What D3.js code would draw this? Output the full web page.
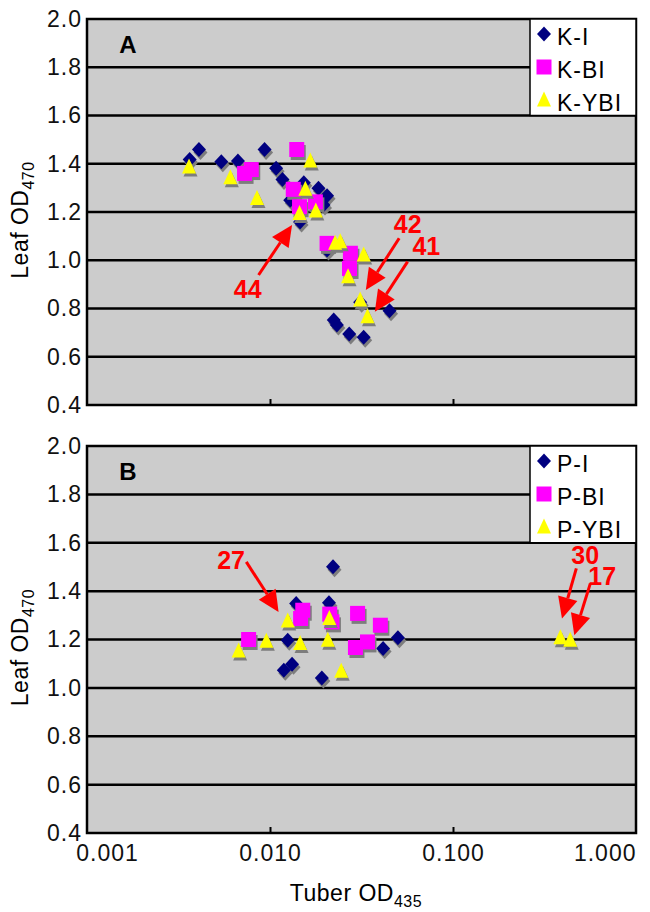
<!DOCTYPE html>
<html>
<head>
<meta charset="utf-8">
<script src="https://cdn.jsdelivr.net/npm/d3@7"></script>
<style>
body { margin: 0; background: #fff; }
text { font-family: "Liberation Sans", Arial, Helvetica, sans-serif; }
</style>
</head>
<body>
<div id="chart"></div>
<script>
// tuber OD435 vs leaf OD470, one [x, y] pair per plant
var kI = [[0.00364,1.418],[0.00409,1.459],[0.00542,1.408],[0.00668,1.411],[0.00934,1.459],
          [0.0108,1.381],[0.0117,1.335],[0.0129,1.249],[0.0153,1.321],[0.0184,1.298],[0.0205,1.267],
          [0.0196,1.229],[0.0146,1.159],[0.0205,1.042],[0.0223,0.752],[0.0232,0.732],
          [0.0271,0.694],[0.0325,0.681],[0.0450,0.791],[0.0311,0.826]];
var kBI = [[0.0140,1.459],[0.0079,1.376],[0.00726,1.360],[0.0134,1.294],[0.0145,1.222],
           [0.0177,1.242],[0.0205,1.070],[0.0275,1.029],[0.0272,0.966]];
var kYBI = [[0.00361,1.387],[0.0166,1.411],[0.00607,1.342],[0.00849,1.256],[0.0156,1.294],
            [0.0145,1.194],[0.0178,1.204],[0.0242,1.077],[0.0227,1.070],[0.0325,1.022],
            [0.0267,0.932],[0.0311,0.835],[0.0341,0.766]];

var pI = [[0.0221,1.501],[0.0139,1.349],[0.0210,1.352],[0.0125,1.197],[0.0119,1.073],
          [0.0132,1.098],[0.0192,1.041],[0.0415,1.163],[0.0500,1.207]];
var pBI = [[0.00764,1.200],[0.0151,1.321],[0.0147,1.287],[0.0212,1.305],[0.0218,1.273],
           [0.0301,1.308],[0.0401,1.259],[0.0293,1.167],[0.0341,1.190]];
var pYBI = [[0.00674,1.152],[0.00955,1.193],[0.0125,1.276],[0.0146,1.183],[0.0211,1.287],
            [0.0207,1.197],[0.0245,1.069],[0.386,1.207],[0.437,1.197]];

var kNames = ["K-I","K-BI","K-YBI"];
var pNames = ["P-I","P-BI","P-YBI"];

// numbered plants: label position, arrow start, arrow tip
var kNotes = [
    {label:"44", at:[0.00756,0.881], from:[0.00866,0.939], to:[0.0132,1.146]},
    {label:"42", at:[0.0566,1.152], from:[0.0508,1.091], to:[0.0334,0.877]},
    {label:"41", at:[0.0715,1.059], from:[0.0565,0.994], to:[0.0374,0.787]}
];
var pNotes = [
    {label:"27", at:[0.00613,1.528], from:[0.00742,1.521], to:[0.01114,1.314]},
    {label:"30", at:[0.528,1.549], from:[0.472,1.494], to:[0.394,1.287]},
    {label:"17", at:[0.654,1.462], from:[0.563,1.432], to:[0.460,1.218]}
];

var yTicks = [0.4,0.6,0.8,1.0,1.2,1.4,1.6,1.8,2.0];
var xTicks = [0.001,0.01,0.1,1];
var xTickLabels = ["0.001","0.010","0.100","1.000"];

var width = 650, height = 912;
var xLeft = 87, xRight = 636;
var colors = ["#000080","#ff00ff","#ffff00"];
var shapes = ["diamond","square","triangle"];

var svg = d3.select("#chart").append("svg")
    .attr("width", width).attr("height", height);

var x = d3.scaleLog().domain([0.001, 1]).range([xLeft, xRight]);

function shapePath(s)
{
    if (s == "diamond") return "M0,-7.5L7,0L0,7.5L-7,0Z";
    if (s == "square") return "M-7.5,-7.5H7.5V7.5H-7.5Z";
    return "M0,-8.5L7,6.5H-7Z";
}

function drawPanel(letter, top, bottom, series, names, notes)
{
    var y = d3.scaleLinear().domain([0.4, 2.0]).range([bottom, top]);
    var g = svg.append("g");

    g.append("rect")
        .attr("x", xLeft).attr("y", top)
        .attr("width", xRight - xLeft).attr("height", bottom - top)
        .attr("fill", "#cccccc");

    g.selectAll(".grid")
        .data(yTicks.slice(1, -1))
        .enter().append("line")
        .attr("x1", xLeft).attr("x2", xRight)
        .attr("y1", function(d){ return y(d); })
        .attr("y2", function(d){ return y(d); })
        .attr("stroke", "#000").attr("stroke-width", 2.5);

    // little inward ticks on the bottom edge
    var tk = g.append("g")
        .attr("transform", "translate(0," + bottom + ")")
        .call(d3.axisTop(x).tickValues([0.01, 0.1]).tickSize(6).tickFormat(""));
    tk.select(".domain").remove();
    tk.selectAll("line").attr("stroke-width", 2);

    var ya = g.append("g")
        .attr("transform", "translate(" + (xLeft - 5) + ",0)")
        .call(d3.axisLeft(y).tickValues(yTicks).tickFormat(d3.format(".1f")).tickSize(0).tickPadding(0));
    ya.select(".domain").remove();
    ya.selectAll("text").attr("font-size", 23).attr("fill", "#111")
        .attr("letter-spacing", 1)
        .attr("font-family", "'Liberation Sans', Arial, sans-serif");

    series.forEach(function(pts, i){
        var sg = g.append("g");
        sg.selectAll(".shadow").data(pts).enter().append("path")
            .attr("d", shapePath(shapes[i]))
            .attr("transform", function(d){ return "translate(" + (x(d[0]) + 1.5) + "," + (y(d[1]) + 3) + ")"; })
            .attr("fill", "#7d7d7d");
        sg.selectAll(".pt").data(pts).enter().append("path")
            .attr("d", shapePath(shapes[i]))
            .attr("transform", function(d){ return "translate(" + x(d[0]) + "," + y(d[1]) + ")"; })
            .attr("fill", colors[i]);
    });

    g.append("rect")
        .attr("x", xLeft).attr("y", top)
        .attr("width", xRight - xLeft).attr("height", bottom - top)
        .attr("fill", "none").attr("stroke", "#000").attr("stroke-width", 2.5);

    g.append("text")
        .attr("x", 128).attr("y", top + 34)
        .attr("text-anchor", "middle")
        .attr("font-size", 24).attr("font-weight", "bold")
        .text(letter);

    // legend
    var lx = xRight - 106;
    g.append("rect")
        .attr("x", lx).attr("y", top)
        .attr("width", xRight - lx).attr("height", y(1.6) - top)
        .attr("fill", "#fff").attr("stroke", "#000").attr("stroke-width", 1.5);
    names.forEach(function(n, i){
        var ly = top + 15 + i * 33;
        g.append("path")
            .attr("d", shapePath(shapes[i]))
            .attr("transform", "translate(" + (lx + 14) + "," + ly + ")")
            .attr("fill", colors[i]);
        g.append("text")
            .attr("x", lx + 27).attr("y", ly + 11)
            .attr("font-size", 23).attr("letter-spacing", 1)
            .text(n);
    });

    // red arrows
    notes.forEach(function(a){
        var x0 = x(a.from[0]), y0 = y(a.from[1]);
        var x1 = x(a.to[0]), y1 = y(a.to[1]);
        var len = Math.hypot(x1 - x0, y1 - y0);
        var ux = (x1 - x0) / len, uy = (y1 - y0) / len;
        var hl = 21, hw = 10;
        var bx = x1 - ux * hl, by = y1 - uy * hl;
        g.append("line")
            .attr("x1", x0).attr("y1", y0).attr("x2", bx).attr("y2", by)
            .attr("stroke", "#ff0000").attr("stroke-width", 3);
        g.append("path")
            .attr("d", "M" + x1 + "," + y1 +
                       "L" + (bx - uy * hw) + "," + (by + ux * hw) +
                       "L" + (bx + uy * hw) + "," + (by - ux * hw) + "Z")
            .attr("fill", "#ff0000");
        g.append("text")
            .attr("x", x(a.at[0])).attr("y", y(a.at[1]))
            .attr("dy", "0.36em")
            .attr("text-anchor", "middle")
            .attr("font-size", 25).attr("font-weight", "bold")
            .attr("fill", "#ff0000")
            .text(a.label);
    });

    // y title
    var t = g.append("text")
        .attr("transform", "translate(28," + ((top + bottom) / 2 + 8) + ") rotate(-90)")
        .attr("text-anchor", "middle")
        .attr("font-size", 23).attr("letter-spacing", 0.5);
    t.append("tspan").text("Leaf OD");
    t.append("tspan").attr("font-size", 16).attr("dy", 6).text("470");

    return y;
}

drawPanel("A", 19, 405, [kI, kBI, kYBI], kNames, kNotes);
drawPanel("B", 446, 833, [pI, pBI, pYBI], pNames, pNotes);

// x tick labels under the bottom panel only
var xa = svg.append("g")
    .attr("transform", "translate(0,833)")
    .call(d3.axisBottom(x).tickValues(xTicks)
        .tickFormat(function(d, i){ return xTickLabels[i]; })
        .tickSize(0).tickPadding(12));
xa.select(".domain").remove();
xa.selectAll("text")
    .attr("font-size", 23).attr("fill", "#111").attr("letter-spacing", 1)
    .attr("font-family", "'Liberation Sans', Arial, sans-serif");
xa.selectAll("text").filter(function(d, i){ return i == 0; }).attr("dx", 20);
xa.selectAll("text").filter(function(d, i){ return i == 3; }).attr("text-anchor", "end");

var xt = svg.append("text")
    .attr("x", 356).attr("y", 901)
    .attr("text-anchor", "middle")
    .attr("font-size", 23).attr("letter-spacing", 0.5);
xt.append("tspan").text("Tuber OD");
xt.append("tspan").attr("font-size", 16).attr("dy", 6).text("435");
</script>
</body>
</html>
